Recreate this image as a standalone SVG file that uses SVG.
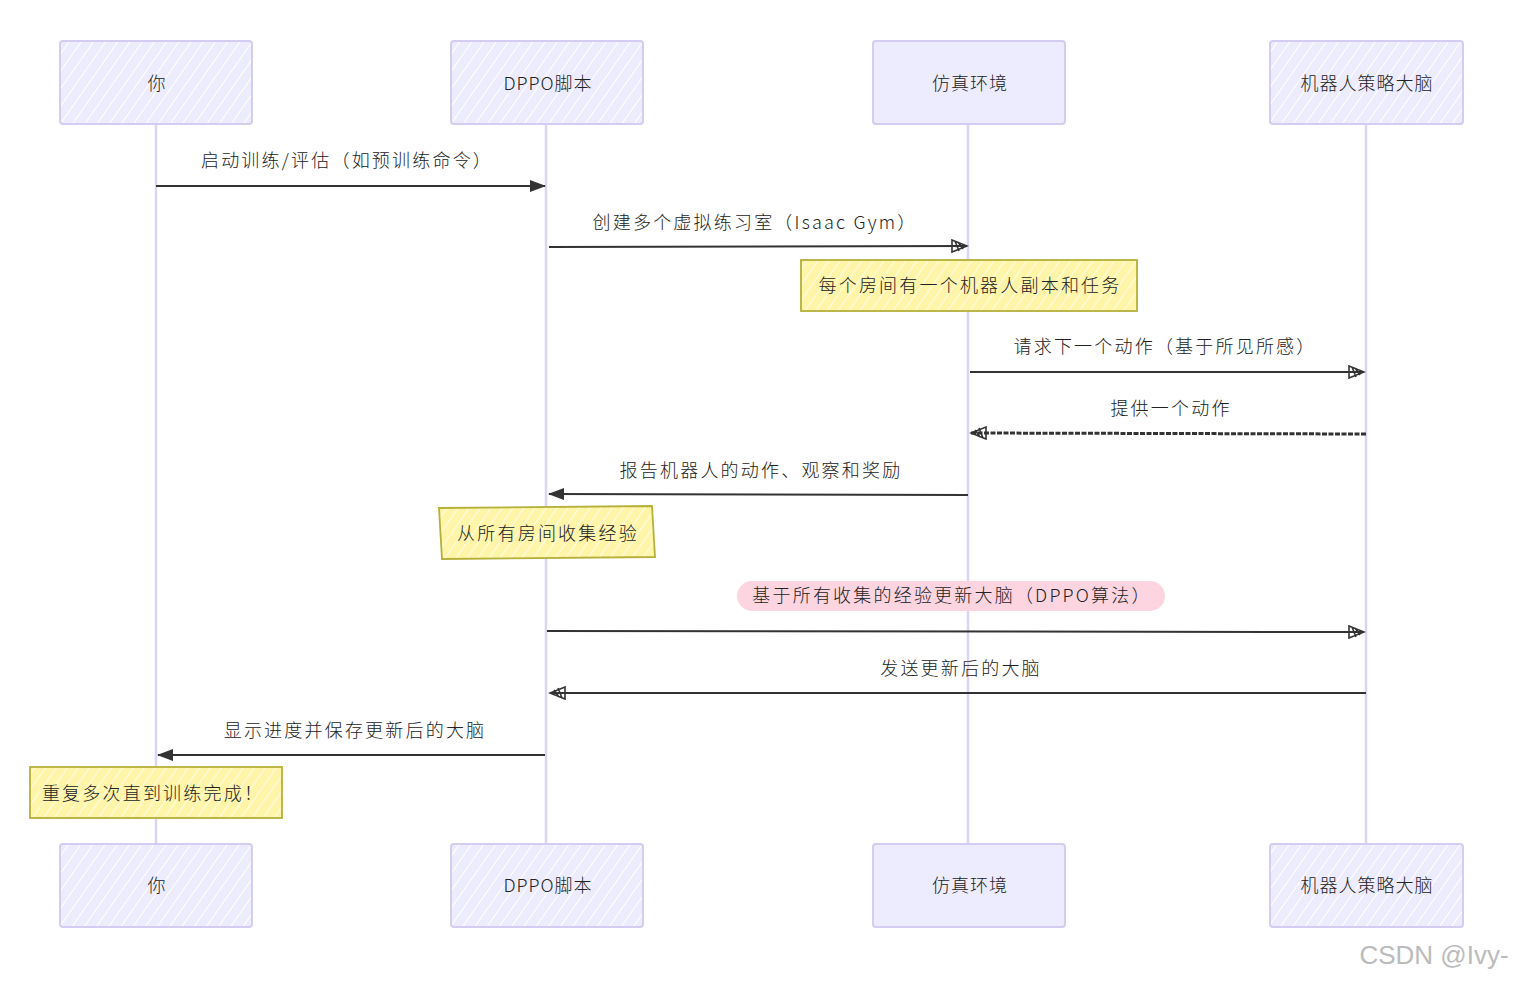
<svg xmlns="http://www.w3.org/2000/svg" width="1514" height="981" viewBox="0 0 1514 981">
<style>
.actor{fill:url(#hatchA);stroke:#d5ccf3;stroke-width:2}
.actor2{fill:#ececfe;stroke:#d5ccf3;stroke-width:2}
.life{stroke:#dcd3f6;stroke-width:2.5;fill:none}
.note{fill:url(#hatchN);stroke:#b5b03a;stroke-width:1.8}
.t{font-family:"Noto Sans CJK SC","Noto Sans",sans-serif;font-size:18px;fill:#222;text-anchor:middle;letter-spacing:2.2px;font-weight:300}
.a{letter-spacing:1px}
.msg{stroke:#333;stroke-width:2;fill:none}
.dash{stroke:#333;stroke-width:3;fill:none;stroke-dasharray:5 1.5}
</style>
<defs>
<pattern id="hatchA" patternUnits="userSpaceOnUse" width="10" height="10" patternTransform="rotate(35)">
<rect width="10" height="10" fill="#ececfe"/>
<line x1="0" y1="0" x2="0" y2="10" stroke="#ffffff" stroke-width="2"/>
</pattern>
<pattern id="hatchN" patternUnits="userSpaceOnUse" width="9" height="9" patternTransform="rotate(35)">
<rect width="9" height="9" fill="#fff5a8"/>
<line x1="0" y1="0" x2="0" y2="9" stroke="#fffbe0" stroke-width="2.5"/>
</pattern>
<marker id="fill" markerWidth="16" markerHeight="12" refX="15" refY="6" orient="auto" markerUnits="userSpaceOnUse">
<path d="M0,0 L16,6 L0,12 Z" fill="#333"/>
</marker>
<marker id="open" markerWidth="18" markerHeight="14" refX="16" refY="7" orient="auto" markerUnits="userSpaceOnUse">
<path d="M1,1 L16,7 L1,13 Z M4,2 L8,12 M7,3 L12,10" fill="none" stroke="#333" stroke-width="1.6"/>
</marker>
</defs>
<g id="lifelines">
<line class="life" x1="156" y1="124" x2="156" y2="844"/>
<line class="life" x1="546" y1="124" x2="546" y2="844"/>
<line class="life" x1="968" y1="124" x2="968" y2="844"/>
<line class="life" x1="1366" y1="124" x2="1366" y2="844"/>
</g>
<g id="actor-you-top"><rect class="actor" x="60" y="41" width="192" height="83" rx="3"/><text class="t a" x="157" y="90">你</text></g>
<g id="actor-dppo-top"><rect class="actor" x="451" y="41" width="192" height="83" rx="3"/><text class="t a" x="548" y="90">DPPO脚本</text></g>
<g id="actor-sim-top"><rect class="actor2" x="873" y="41" width="192" height="83" rx="3"/><text class="t a" x="970" y="90">仿真环境</text></g>
<g id="actor-brain-top"><rect class="actor" x="1270" y="41" width="193" height="83" rx="3"/><text class="t a" x="1367" y="90">机器人策略大脑</text></g>
<g id="actor-you-bottom"><rect class="actor" x="60" y="844" width="192" height="83" rx="3"/><text class="t a" x="157" y="892">你</text></g>
<g id="actor-dppo-bottom"><rect class="actor" x="451" y="844" width="192" height="83" rx="3"/><text class="t a" x="548" y="892">DPPO脚本</text></g>
<g id="actor-sim-bottom"><rect class="actor2" x="873" y="844" width="192" height="83" rx="3"/><text class="t a" x="970" y="892">仿真环境</text></g>
<g id="actor-brain-bottom"><rect class="actor" x="1270" y="844" width="193" height="83" rx="3"/><text class="t a" x="1367" y="892">机器人策略大脑</text></g>
<g id="highlight"><rect x="737" y="581" width="428" height="30" rx="15" fill="#fdd5e1"/></g>
<g id="connectors">
<line class="msg" x1="156" y1="186" x2="545" y2="186" marker-end="url(#fill)"/>
<line class="msg" x1="549" y1="247" x2="967" y2="246" marker-end="url(#open)"/>
<line class="msg" x1="970" y1="372" x2="1364" y2="372" marker-end="url(#open)"/>
<line class="dash" x1="1366" y1="434" x2="971" y2="433" marker-end="url(#open)"/>
<line class="msg" x1="968" y1="495" x2="549" y2="494" marker-end="url(#fill)"/>
<line class="msg" x1="547" y1="631" x2="1364" y2="632" marker-end="url(#open)"/>
<line class="msg" x1="1366" y1="693" x2="550" y2="693" stroke-width="2.8" marker-end="url(#open)"/>
<line class="msg" x1="545" y1="755" x2="158" y2="755" marker-end="url(#fill)"/>
</g>
<g id="labels">
<text class="t" x="347" y="167">启动训练/评估（如预训练命令）</text>
<text class="t" x="755" y="229">创建多个虚拟练习室（Isaac Gym）</text>
<text class="t" x="1165" y="353">请求下一个动作（基于所见所感）</text>
<text class="t" x="1171" y="415">提供一个动作</text>
<text class="t" x="761" y="477">报告机器人的动作、观察和奖励</text>
<text class="t" x="952" y="602">基于所有收集的经验更新大脑（DPPO算法）</text>
<text class="t" x="961" y="675">发送更新后的大脑</text>
<text class="t" x="355" y="737">显示进度并保存更新后的大脑</text>
</g>
<g id="note-rooms"><rect class="note" x="801" y="260" width="336" height="51"/><text class="t" x="970" y="292">每个房间有一个机器人副本和任务</text></g>
<g id="note-collect"><path class="note" d="M439,508 L652,506 L655,557 L442,559 Z"/><text class="t" x="548" y="540">从所有房间收集经验</text></g>
<g id="note-repeat"><rect class="note" x="30" y="767" width="252" height="51"/><text class="t" x="153" y="800">重复多次直到训练完成！</text></g>
<text x="1434" y="964" font-family="Liberation Sans,Arial,sans-serif" font-size="26" fill="#bbbbbb" text-anchor="middle">CSDN @Ivy-</text>
</svg>
